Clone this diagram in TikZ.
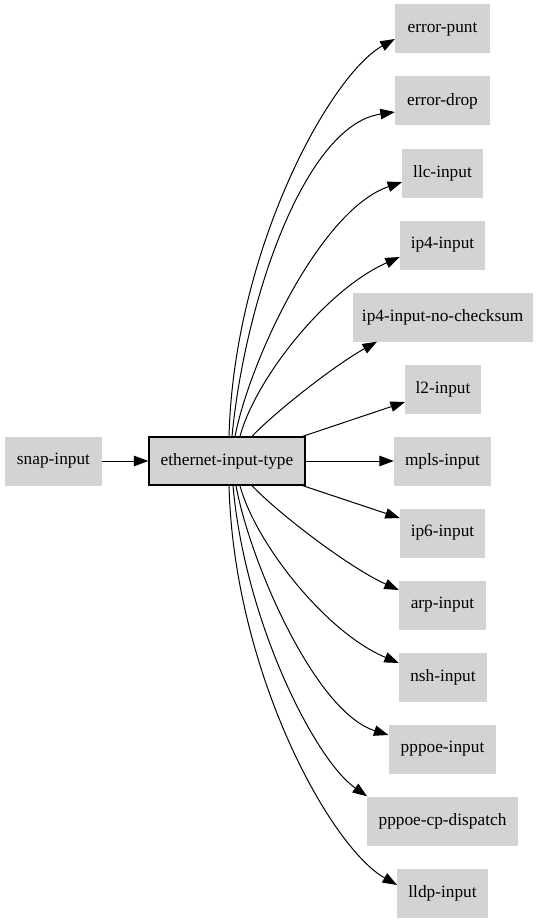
\documentclass[tikz,border=0pt]{standalone}
\usepackage{fontspec}
\setmainfont{Liberation Serif}
\usetikzlibrary{arrows.meta,calc}
\definecolor{nodegray}{HTML}{D3D3D3}
\begin{document}
\begin{tikzpicture}[x=1pt,y=-1pt,
  box/.style={fill=nodegray,draw=none,minimum height=49pt,inner sep=0pt,
    font=\fontsize{17.3}{20}\selectfont},
  mainbox/.style={box,draw=black,line width=1.3pt,minimum height=48pt},
  edge/.style={draw=black,line width=1pt,-{Triangle[length=14.5pt,width=10.5pt]}}]
\useasboundingbox (0,0) rectangle (537,923);
% nodes
\node[box,minimum width=97pt] (snap) at (53.5,461) {snap-input};
\node[mainbox,minimum width=156pt] (eth) at (227,461) {ethernet-input-type};
\node[box,minimum width=95pt] (punt) at (442.5,29) {error-punt};
\node[box,minimum width=95pt] (drop) at (442.5,101) {error-drop};
\node[box,minimum width=80.4pt] (llc) at (442.5,173) {llc-input};
\node[box,minimum width=85pt] (ip4) at (442.5,245) {ip4-input};
\node[box,minimum width=180pt] (nocs) at (442.7,317) {ip4-input-no-checksum};
\node[box,minimum width=75.7pt] (l2) at (443,389) {l2-input};
\node[box,minimum width=97pt] (mpls) at (442.5,461) {mpls-input};
\node[box,minimum width=85pt] (ip6) at (442.5,533) {ip6-input};
\node[box,minimum width=87pt] (arp) at (442.5,605) {arp-input};
\node[box,minimum width=88pt] (nsh) at (443,677) {nsh-input};
\node[box,minimum width=107.7pt] (pppoe) at (442.5,749) {pppoe-input};
\node[box,minimum width=150.4pt] (cp) at (442.5,821) {pppoe-cp-dispatch};
\node[box,minimum width=90.4pt] (lldp) at (442.5,893) {lldp-input};
% edges
\draw[edge] (snap.east) -- (eth.west);
\draw[edge] ($(eth.north)+(2,0)$) .. controls (234,250) and (330,75) .. ($(punt.west)+(0,10)$);
\draw[edge] ($(eth.north)+(5,0)$) .. controls (245,300) and (305,125) .. ($(drop.west)+(0,11)$);
\draw[edge] ($(eth.north)+(8,0)$) .. controls (250,360) and (320,210) .. ($(llc.west)+(0,9)$);
\draw[edge] ($(eth.north)+(13,0)$) .. controls (255,380) and (325,290) .. ($(ip4.west)+(0,12)$);
\draw[edge] ($(eth.north)+(25,0)$) .. controls (275,412) and (335,365) .. ($(nocs.south)+(-65.7,0)$);
\draw[edge] ($(eth.north east)+(-3,0)$) -- ($(l2.west)+(0,13)$);
\draw[edge] (eth.east) -- (mpls.west);
\draw[edge] ($(eth.south east)+(-3,0)$) -- ($(ip6.west)+(0,-15)$);
\draw[edge] ($(eth.south)+(25,0)$) .. controls (280,515) and (350,568) .. ($(arp.west)+(0,-15)$);
\draw[edge] ($(eth.south)+(13,0)$) .. controls (255,542) and (325,632) .. ($(nsh.west)+(0,-14)$);
\draw[edge] ($(eth.south)+(9,0)$) .. controls (250,562) and (315,712) .. ($(pppoe.west)+(0,-14)$);
\draw[edge] ($(eth.south)+(6,0)$) .. controls (245,622) and (315,760) .. (cp.north west);
\draw[edge] ($(eth.south)+(2,0)$) .. controls (234,672) and (330,847) .. ($(lldp.west)+(0,-8)$);
\end{tikzpicture}
\end{document}
